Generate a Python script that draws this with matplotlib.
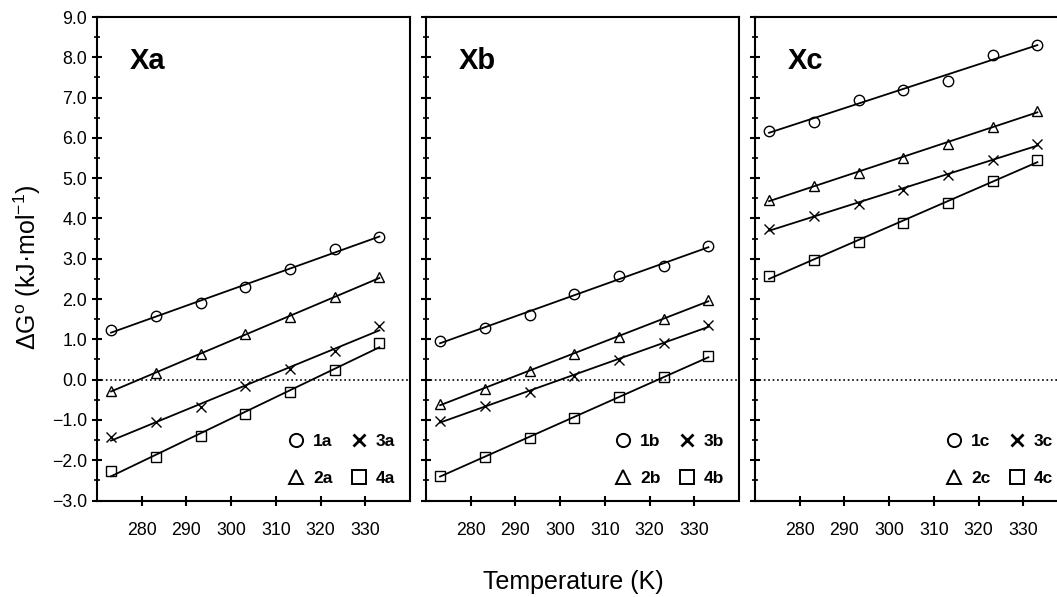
import numpy as np
import matplotlib.pyplot as plt
from matplotlib.lines import Line2D
from matplotlib.ticker import MultipleLocator, FuncFormatter

plt.rcParams['font.family'] = ['Liberation Sans', 'DejaVu Sans']
plt.rcParams['mathtext.fontset'] = 'custom'
plt.rcParams['mathtext.rm'] = 'Liberation Sans'
plt.rcParams['mathtext.it'] = 'Liberation Sans:italic'
plt.rcParams['mathtext.bf'] = 'Liberation Sans:bold'

temps = [273.15, 283.15, 293.15, 303.15, 313.15, 323.15, 333.15]
xticks = [280, 290, 300, 310, 320, 330]

# dG values (kJ/mol)
xa_1 = [1.22, 1.57, 1.90, 2.30, 2.75, 3.23, 3.54]
xa_2 = [-0.27, 0.16, 0.63, 1.14, 1.55, 2.04, 2.55]
xa_3 = [-1.43, -1.05, -0.68, -0.17, 0.26, 0.71, 1.34]
xa_4 = [-2.28, -1.91, -1.39, -0.85, -0.31, 0.25, 0.90]

xb_1 = [0.96, 1.27, 1.60, 2.13, 2.57, 2.82, 3.31]
xb_2 = [-0.60, -0.23, 0.22, 0.64, 1.07, 1.51, 1.97]
xb_3 = [-1.03, -0.66, -0.31, 0.10, 0.49, 0.91, 1.35]
xb_4 = [-2.38, -1.91, -1.44, -0.95, -0.44, 0.06, 0.58]

xc_1 = [6.18, 6.40, 6.95, 7.19, 7.42, 8.06, 8.30]
xc_2 = [4.47, 4.80, 5.13, 5.51, 5.86, 6.28, 6.67]
xc_3 = [3.74, 4.06, 4.37, 4.70, 5.07, 5.46, 5.86]
xc_4 = [2.58, 2.98, 3.41, 3.89, 4.39, 4.93, 5.46]

panels = [('Xa', 'a', [xa_1, xa_2, xa_3, xa_4]),
          ('Xb', 'b', [xb_1, xb_2, xb_3, xb_4]),
          ('Xc', 'c', [xc_1, xc_2, xc_3, xc_4])]
markers = ['o', '^', 'x', 's']
msizes = [7.5, 7.5, 7.5, 7.0]

W, H = 1057, 597
fig = plt.figure(figsize=(W / 100, H / 100), dpi=100)
lefts = [97, 426, 755]
top, bottom, width = 17, 500.5, 313

yfmt = FuncFormatter(lambda v, p: ('%.1f' % v).replace('-', '\u2212'))

for i, (title, suffix, series) in enumerate(panels):
    ax = fig.add_axes([lefts[i] / W, 1 - bottom / H, width / W, (bottom - top) / H])
    ax.set_xlim(270, 340)
    ax.set_ylim(-3, 9)
    ax.axhline(0, color='black', linestyle=':', linewidth=1.2)
    t = np.array(temps)
    for vals, m, ms in zip(series, markers, msizes):
        k, b = np.polyfit(t, vals, 1)  # straight fit through each series
        ax.plot([t[0], t[-1]], [k * t[0] + b, k * t[-1] + b], color='black', linewidth=1.3)
        ax.plot(t, vals, linestyle='None', marker=m, markersize=ms, mfc='none',
                mec='black', mew=1.0)
    ax.set_xticks(xticks)
    ax.yaxis.set_major_locator(MultipleLocator(1.0))
    ax.yaxis.set_minor_locator(MultipleLocator(0.5))
    ax.yaxis.set_major_formatter(yfmt)
    ax.tick_params(axis='both', which='major', direction='inout', length=7, width=1.5,
                   labelsize=12.8, top=False, right=False)
    ax.tick_params(axis='x', pad=12)
    ax.tick_params(axis='y', which='minor', direction='inout', length=4, width=1.2, right=False)
    if i > 0:
        ax.tick_params(axis='y', labelleft=False)
    for sp in ax.spines.values():
        sp.set_linewidth(1.5)
    ax.text(0.105, 0.91, title, transform=ax.transAxes, fontsize=21, fontweight='bold',
            ha='left', va='center')
    handles = [Line2D([], [], linestyle='None', marker=m,
                      markersize=8 if m == 'x' else 9.5, mfc='none',
                      mec='black', mew=2.0 if m == 'x' else 1.4) for m in markers]
    labels = [str(j + 1) + suffix for j in range(4)]
    ax.legend(handles, labels, ncol=2, loc='lower right', frameon=False,
              prop={'weight': 'bold', 'size': 12.5}, labelspacing=1.25,
              columnspacing=1.0, handletextpad=0.5, handlelength=1.0,
              borderaxespad=0.45)

fig.text(27 / W, 1 - 267 / H, 'Δ$\\mathrm{G^{o}}$ (kJ·mol$^{\\mathrm{-1}}$)', rotation=90,
         fontsize=18, ha='center', va='center')
fig.text(573 / W, 1 - 582 / H, 'Temperature (K)', fontsize=18, ha='center', va='center')

fig.savefig('out.png', dpi=100)
